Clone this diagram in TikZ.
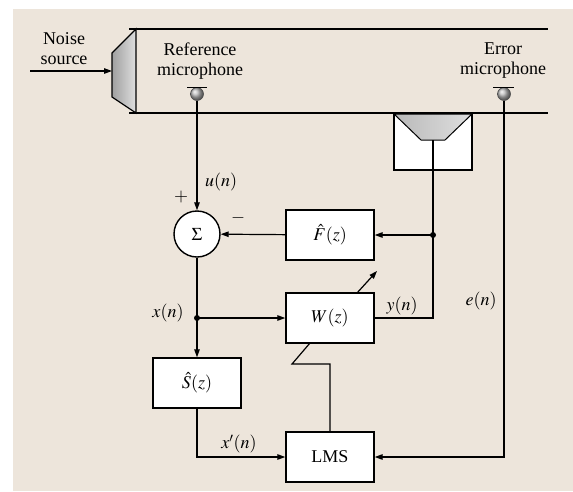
\documentclass[tikz,border=0pt]{standalone}
\usepackage{mathptmx}
\usepackage{fontspec}
\setmainfont{Liberation Serif}
\usepackage{xcolor}
\usetikzlibrary{arrows.meta,positioning}

\definecolor{panel}{RGB}{237,229,219}

\begin{document}
\begin{tikzpicture}[x=1pt,y=-1pt,line width=1.2pt,
  >={Triangle[length=8pt,width=5.5pt]},
  font=\fontsize{18}{20}\selectfont,
  blk/.style={rectangle,draw,fill=white,line width=1.4pt,minimum width=88pt,minimum height=50pt},
  mic/.style={circle,draw=black!70,line width=0.6pt,ball color=gray!55,minimum size=13pt,inner sep=0pt},
  lbl/.style={inner sep=1pt}]
\useasboundingbox (0,0) rectangle (573,491);
\fill[panel] (13,9) rectangle (573,491);

% duct
\draw (129,29) -- (548,29);
\draw (129,113) -- (548,113);

% primary loudspeaker
\draw[left color=gray!75,right color=gray!25] (136,29) -- (112,53) -- (112,97) -- (136,113) -- cycle;
\coordinate (spkin) at (112,71);
\coordinate (src) at (30,71);
\draw[->] (src) -- (spkin);
\node[align=center] (nsrc) at (64,49) {Noise\\source};

% microphones
\node[align=center] (reftxt) at (200,61) {Reference\\microphone};
\node[mic] (refmic) at (197,94) {};
\draw[line width=1.4pt] (187,87.5) -- (207,87.5);
\node[align=center] (errtxt) at (503,61) {Error\\microphone};
\node[mic] (errmic) at (504,94) {};
\draw[line width=1.4pt] (493,87.5) -- (514,87.5);

% secondary loudspeaker
\draw[fill=white,line width=1.4pt] (394,113) rectangle (472,170);
\draw[left color=gray!55,right color=gray!25,line width=1pt] (394,114) -- (472,114) -- (445,140) -- (421,140) -- cycle;
\coordinate (spk2) at (433,140);

% blocks
\node[circle,draw,fill=white,line width=1.4pt,minimum size=46pt,inner sep=0pt] (sum) at (197,234) {$\Sigma$};
\node[blk] (fhat) at (330,235) {$\hat{F}(z)$};
\node[blk] (wz) at (330,318) {$W(z)$};
\node[blk] (shat) at (197,383) {$\hat{S}(z)$};
\node[blk] (lms) at (330,457) {LMS};

% junctions
\coordinate (jf) at (433,235);
\coordinate (jx) at (197,318);
\fill (jf) circle (3pt);
\fill (jx) circle (3pt);

% signal paths
\draw[->] (refmic) -- (sum);
\draw[->] (fhat) -- (sum);
\draw (wz.east) -| (jf) -- (spk2);
\draw[->] (jf) -- (fhat.east);
\draw (sum) -- (jx);
\draw[->] (jx) -- (wz.west);
\draw[->] (jx) -- (shat.north);
\draw[->] (shat.south) |- (lms.west);
\draw[->] (errmic) |- (lms.east);

% adaptation
\coordinate (upd1) at (330,364);
\coordinate (upd2) at (292,364);
\coordinate (upd3) at (310,343);
\draw (lms.north) -- (upd1) -- (upd2) -- (upd3);
\coordinate (ad1) at (357,293);
\coordinate (ad2) at (377,271);
\draw[->] (ad1) -- (ad2);

% labels
\node[lbl] (lu) at (221,182) {$u(n)$};
\node[lbl] (lp) at (181,197) {$+$};
\node[lbl] (lm) at (238,218) {$-$};
\node[lbl] (lx) at (168,313) {$x(n)$};
\node[lbl] (ly) at (402,306) {$y(n)$};
\node[lbl] (le) at (481,301) {$e(n)$};
\node[lbl] (lxp) at (239,444) {$x'(n)$};
\end{tikzpicture}
\end{document}
